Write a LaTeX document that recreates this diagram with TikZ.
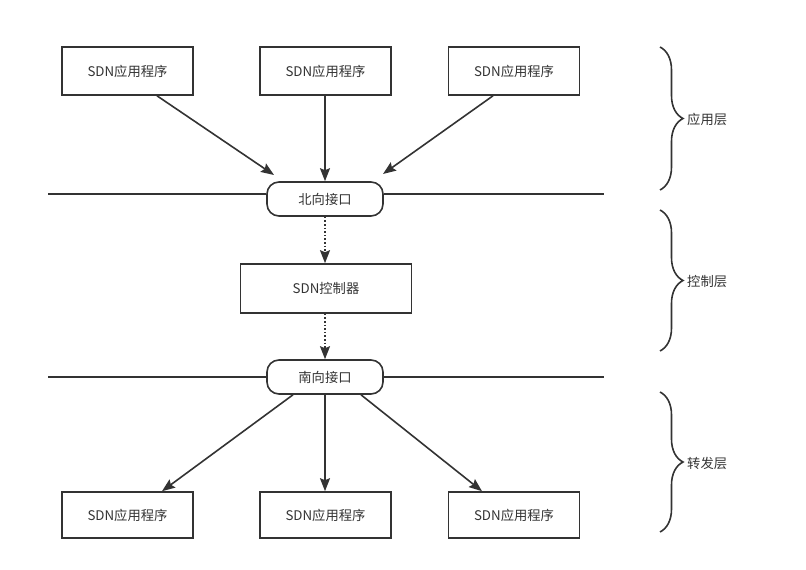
\documentclass[tikz,border=0pt]{standalone}
\usepackage{fontspec}
\setmainfont{Noto Sans CJK SC}
\usetikzlibrary{arrows.meta,decorations.pathreplacing}
\definecolor{ink}{HTML}{333333}
\begin{document}
\begin{tikzpicture}[x=1pt,y=-1pt,
  every node/.style={font=\fontsize{13.3}{15}\selectfont, text=ink},
  appbox/.style={draw=ink, line width=1.6pt, minimum width=131pt, minimum height=48pt, inner sep=0pt},
  iface/.style={draw=ink, line width=1.6pt, rounded corners=12pt, minimum width=116pt, minimum height=34pt, inner sep=0pt},
  conn/.style={draw=ink, line width=1.6pt, -{Stealth[length=13pt,width=10pt,inset=2pt]}},
  dotconn/.style={conn, dotted},
  layerline/.style={draw=ink, line width=1.6pt},
  bracepath/.style={draw=ink, line width=1.6pt, decorate, decoration={brace, amplitude=23pt}},
  lbl/.style={anchor=west, inner sep=0pt}
]
\useasboundingbox (0,0) rectangle (806,570);
% top apps
\node[appbox] (a1) at (127.5,71) {SDN应用程序};
\node[appbox] (a2) at (325.5,71) {SDN应用程序};
\node[appbox] (a3) at (514,71) {SDN应用程序};
% interfaces
\node[iface] (nb) at (325,199) {北向接口};
\node[appbox, minimum width=171pt, minimum height=49pt] (ctl) at (326,288.5) {SDN控制器};
\node[iface] (sb) at (325,377) {南向接口};
% bottom apps
\node[appbox, minimum height=46pt] (b1) at (127.5,515) {SDN应用程序};
\node[appbox, minimum height=46pt] (b2) at (325.5,515) {SDN应用程序};
\node[appbox, minimum height=46pt] (b3) at (514,515) {SDN应用程序};
% layer lines
\coordinate (nl) at (48,194);
\coordinate (nr) at (604,194);
\coordinate (sl) at (48,377);
\coordinate (sr) at (604,377);
\draw[layerline] (nl) -- (nl -| nb.west);
\draw[layerline] (nr -| nb.east) -- (nr);
\draw[layerline] (sl) -- (sl -| sb.west);
\draw[layerline] (sr -| sb.east) -- (sr);
% arrows top
\coordinate (t1) at (274,175);
\coordinate (t3) at (383,174);
\draw[conn] ([xshift=29.5pt]a1.south) -- (t1);
\draw[conn] (a2.south -| nb.north) -- (nb.north);
\draw[conn] ([xshift=-21pt]a3.south) -- (t3);
% dotted
\draw[dotconn] (nb.south) -- (nb.south |- ctl.north);
\draw[dotconn] (nb.south |- ctl.south) -- (sb.north);
% bottom
\draw[conn] ([xshift=-32pt]sb.south) -- ([xshift=34.5pt]b1.north);
\draw[conn] (sb.south) -- (sb.south |- b2.north);
\draw[conn] ([xshift=36pt]sb.south) -- ([xshift=-32pt]b3.north);
% braces
\coordinate (br1a) at (660,47); \coordinate (br1b) at (660,190);
\coordinate (br2a) at (660,210); \coordinate (br2b) at (660,351);
\coordinate (br3a) at (660,392); \coordinate (br3b) at (660,532);
\draw[bracepath] (br1a) -- (br1b);
\draw[bracepath] (br2a) -- (br2b);
\draw[bracepath] (br3a) -- (br3b);
\node[lbl] (l1) at (687,119) {应用层};
\node[lbl] (l2) at (687,281) {控制层};
\node[lbl] (l3) at (687,463) {转发层};
\end{tikzpicture}
\end{document}
